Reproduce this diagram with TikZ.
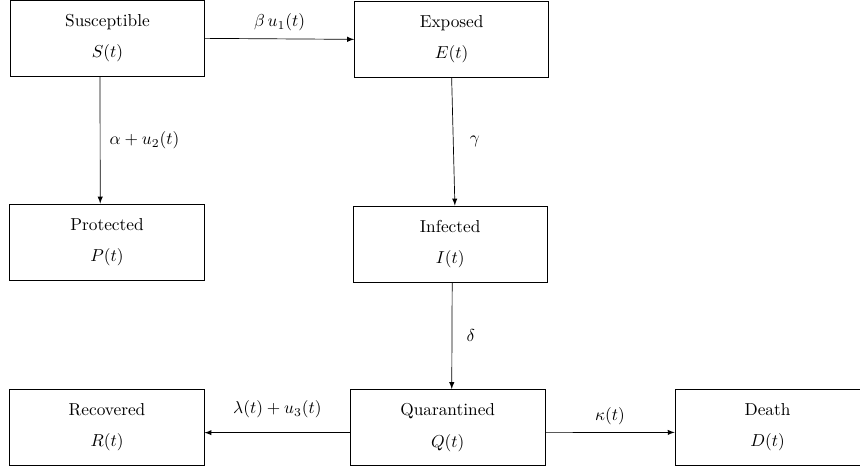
\documentclass[tikz,border=0pt]{standalone}
\usepackage{amsmath}
\usepackage{tikz}
\usetikzlibrary{arrows}

\begin{document}
\begin{tikzpicture}[
	>=latex,
	compartment/.style = {draw, rectangle, align=center, minimum width=3.95cm, minimum height=1.55cm},
]
\useasboundingbox (0,0) rectangle (17.48,-9.553);

% Define compartments
\node[compartment] (S) at (2.185,-0.78) {Susceptible \\[6pt] \(S(t)\)};
\node[compartment] (E) at (9.18,-0.80) {Exposed \\[6pt] \(E(t)\)};
\node[compartment] (P) at (2.175,-4.92) {Protected \\[6pt] \(P(t)\)};
\node[compartment] (I) at (9.15,-4.96) {Infected \\[6pt] \(I(t)\)};
\node[compartment] (R) at (2.175,-8.69) {Recovered \\[6pt] \(R(t)\)};
\node[compartment] (Q) at (9.10,-8.69) {Quarantined \\[6pt] \(Q(t)\)};
\node[compartment, minimum width=3.76cm] (D) at (15.60,-8.69) {Death \\[6pt] \(D(t)\)};

% Draw transitions with rates
\path[->] (S.east) edge node[above=1pt]{\(\beta\, u_1(t)\)} (E.west);
\path[->] (S.259) edge node[right=2pt]{\(\alpha + u_2(t)\)} (P.100);
\path[->] (E.south) edge node[right=6pt]{\(\gamma\)} (I.83);
\path[->] (I.-87) edge node[right=5pt]{\(\delta\)} (Q.84);
\path[->] (Q.-177) edge node[above=5pt]{\(\lambda(t) + u_3(t)\)} (R.-3);
\path[->] (Q.-3) edge node[above=1pt]{\(\kappa(t)\)} (D.-177);
\end{tikzpicture}
\end{document}
